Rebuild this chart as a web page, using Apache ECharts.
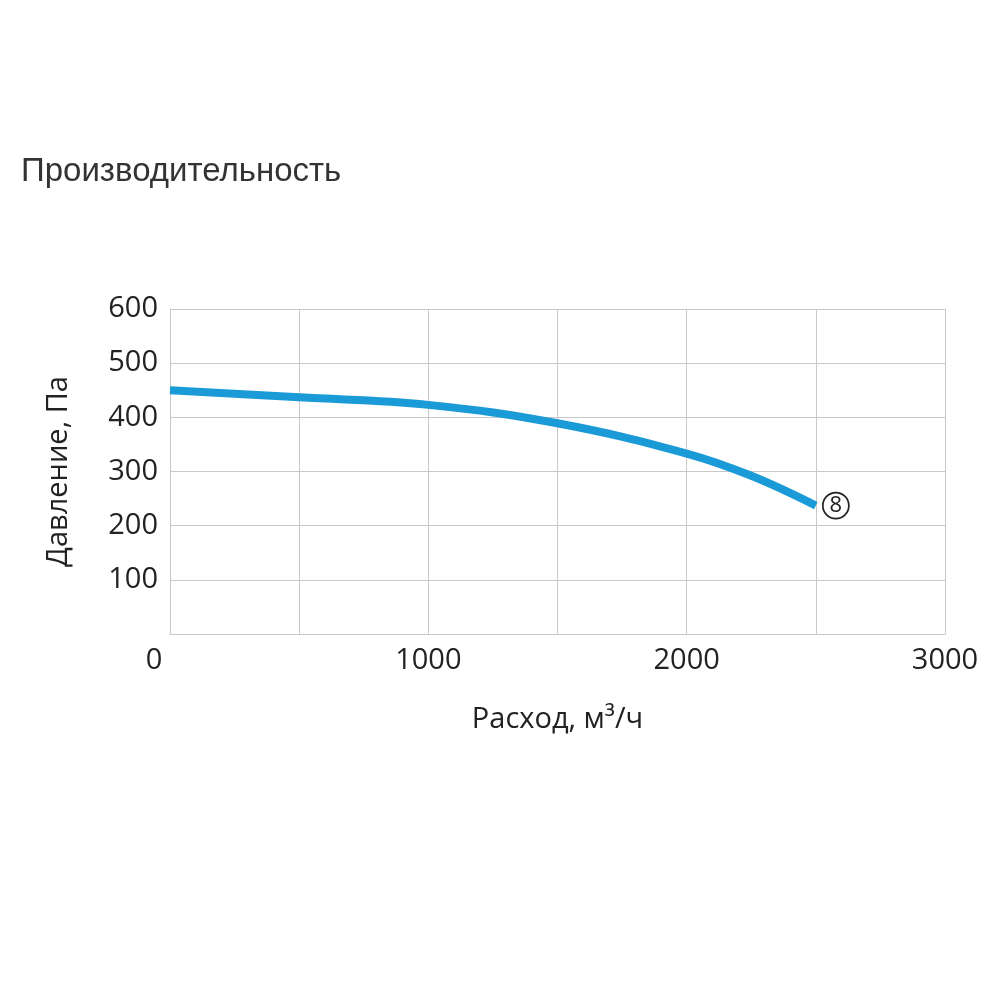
<!DOCTYPE html>
<html><head><meta charset="utf-8">
<script src="https://cdn.jsdelivr.net/npm/echarts@6/dist/echarts.min.js"></script>
<style>html,body{margin:0;padding:0;background:#fff}#c{width:1000px;height:1000px}</style>
</head><body><div id="c"></div>
<script>
const flow = [0, 500, 1000, 1500, 2000, 2250, 2500];
const pressure = [450, 437, 423, 389, 333, 292, 237];
const curveLabel = '8';
const titleText = 'Производительность';
const xName = 'Расход, м³/ч';
const yName = 'Давление, Па';

const chart = echarts.init(document.getElementById('c'));
const data = flow.map((x, i) => [x, pressure[i]]);
const gridColor = '#c9c9c9';
const textColor = '#222';
const fontFam = '"Open Sans", sans-serif';
chart.setOption({
  animation: false,
  title: { text: titleText, left: 16, top: 150, textStyle: { fontFamily: '"Liberation Sans", Arial, sans-serif', fontSize: 33, fontWeight: 'normal', color: '#333' } },
  grid: { left: 170, right: 55, top: 309, bottom: 366, containLabel: false },
  xAxis: {
    type: 'value', min: 0, max: 3000, interval: 500,
    name: xName, nameLocation: 'middle', nameGap: 71,
    nameTextStyle: { fontFamily: fontFam, fontSize: 29, color: textColor },
    axisLine: { show: true, lineStyle: { color: gridColor, width: 1 } },
    axisTick: { show: false },
    splitLine: { show: true, lineStyle: { color: gridColor, width: 1 } },
    axisLabel: {
      margin: 12, fontFamily: fontFam, fontSize: 29, color: textColor,
      formatter: v => v === 0 ? '{z|0}' : (v % 1000 === 0 ? String(v) : ''),
      rich: { z: { fontFamily: fontFam, fontSize: 29, color: textColor, padding: [0, 32, 0, 0] } }
    }
  },
  yAxis: {
    type: 'value', min: 0, max: 600, interval: 100,
    name: yName, nameLocation: 'middle', nameGap: 97,
    nameTextStyle: { fontFamily: fontFam, fontSize: 29, color: textColor },
    axisLine: { show: true, lineStyle: { color: gridColor, width: 1 } },
    axisTick: { show: false },
    splitLine: { show: true, lineStyle: { color: gridColor, width: 1 } },
    axisLabel: { margin: 12, fontFamily: fontFam, fontSize: 29, color: textColor, showMinLabel: false }
  },
  series: [{
    type: 'line', data: data, smooth: 0.4, showSymbol: false, symbol: 'none',
    lineStyle: { color: '#1a9ad7', width: 8, cap: 'butt' },
    endLabel: {
      show: true, formatter: '{c|' + curveLabel + '}', distance: 7,
      rich: { c: { fontFamily: fontFam, fontSize: 22, color: '#222', width: 26, height: 26, lineHeight: 26, align: 'center', verticalAlign: 'middle', borderColor: '#222', borderWidth: 1.7, borderRadius: 14 } }
    }
  }]
});
</script></body></html>
